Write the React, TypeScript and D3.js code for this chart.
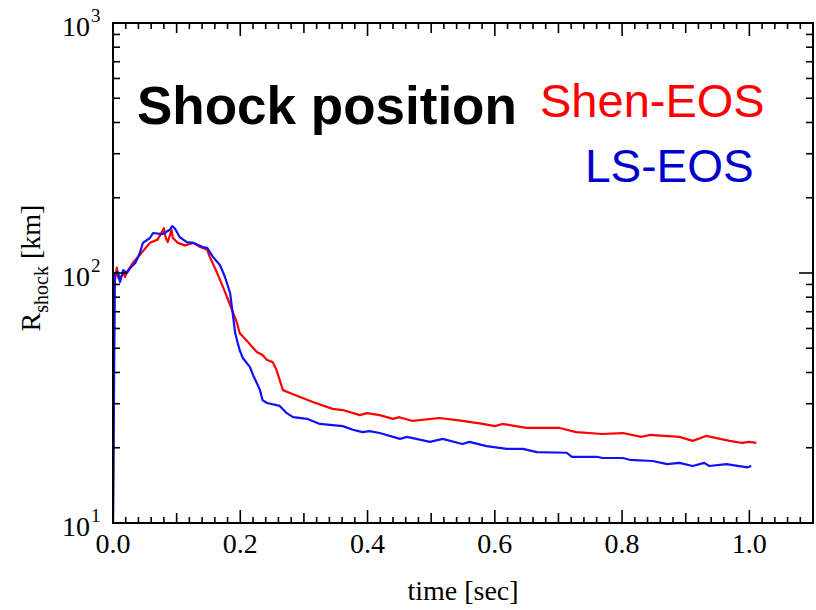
import * as d3 from "d3";
import { useEffect, useRef } from "react";

// Shen-EOS shock radius [km] vs time [sec]
const shenTime = [0, 0.002, 0.006, 0.008, 0.011, 0.016, 0.019, 0.022, 0.027, 0.031, 0.042, 0.058, 0.07, 0.077, 0.08, 0.083, 0.086, 0.092, 0.094, 0.102, 0.113, 0.126, 0.137, 0.148, 0.152, 0.16, 0.165, 0.176, 0.181, 0.195, 0.199, 0.212, 0.226, 0.235, 0.242, 0.251, 0.257, 0.262, 0.267, 0.278, 0.294, 0.314, 0.345, 0.361, 0.388, 0.399, 0.419, 0.44, 0.45, 0.471, 0.513, 0.549, 0.581, 0.6, 0.612, 0.65, 0.702, 0.728, 0.769, 0.801, 0.83, 0.843, 0.89, 0.911, 0.932, 0.969, 0.989, 1.0, 1.011];
const shenR = [10, 90, 105, 96, 93.6, 100.9, 96.4, 101, 105.7, 109.6, 118, 132, 136, 146, 151, 138, 133, 148.6, 138, 132, 129, 132, 127, 124, 116, 105, 98, 84, 78, 63, 57.5, 53, 48.3, 47, 44.9, 44, 40.9, 37.3, 34, 33.1, 31.9, 30.5, 28.6, 28.3, 27, 27.5, 27, 26.1, 26.5, 25.6, 26.3, 25.6, 24.9, 24.4, 24.9, 24, 24, 23.1, 22.7, 22.9, 22.1, 22.5, 22.1, 21.3, 22.3, 21.3, 20.9, 21.1, 20.9];

// LS-EOS
const lsTime = [0, 0.003, 0.008, 0.011, 0.016, 0.022, 0.027, 0.035, 0.042, 0.047, 0.058, 0.063, 0.077, 0.089, 0.093, 0.097, 0.105, 0.116, 0.126, 0.141, 0.148, 0.157, 0.168, 0.176, 0.184, 0.188, 0.192, 0.196, 0.199, 0.204, 0.215, 0.22, 0.226, 0.231, 0.235, 0.242, 0.262, 0.273, 0.283, 0.305, 0.325, 0.361, 0.377, 0.392, 0.403, 0.419, 0.451, 0.462, 0.498, 0.518, 0.549, 0.56, 0.587, 0.619, 0.644, 0.666, 0.713, 0.721, 0.76, 0.769, 0.801, 0.812, 0.848, 0.871, 0.89, 0.911, 0.929, 0.937, 0.964, 0.997, 1.003];
const lsR = [10, 100, 100.9, 92, 102.8, 100, 104.8, 109.6, 120, 132, 138, 144.5, 143, 148.6, 154, 151, 139, 133, 132, 127, 126, 116, 107.6, 96.4, 83.2, 69.2, 57.5, 52.5, 49.2, 45.7, 42.1, 39.1, 36.3, 34, 31, 30.2, 29.4, 27.5, 26.5, 26.1, 24.9, 24.4, 23.6, 23.1, 23.3, 22.9, 21.7, 22.1, 21.1, 21.7, 20.7, 21.1, 20.3, 19.8, 19.8, 19.2, 19.1, 18.4, 18.4, 18.2, 18.2, 17.9, 17.7, 17.2, 17.4, 16.9, 17.4, 16.9, 17.2, 16.7, 16.9];

const xTickLabels = ["0.0", "0.2", "0.4", "0.6", "0.8", "1.0"];
const yDecades = [1, 2, 3];

export default function App() {
  const ref = useRef<SVGSVGElement>(null);

  useEffect(() => {
    const width = 816;
    const height = 610;
    const left = 113, right = 813, top = 23, bottom = 523;
    const serif = "'Liberation Serif', 'Times New Roman', serif";
    const sans = "'Liberation Sans', Arial, sans-serif";

    const svg = d3.select(ref.current);
    svg.selectAll("*").remove();
    svg.attr("width", width).attr("height", height);

    const x = d3.scaleLinear().domain([0, 1.1]).range([left, right]);
    const y = d3.scaleLog().domain([10, 1000]).range([bottom, top]);

    const line = d3.line<[number, number]>()
      .x(d => x(d[0]))
      .y(d => y(d[1]));

    svg.append("clipPath").attr("id", "plotclip")
      .append("rect").attr("x", left).attr("y", top)
      .attr("width", right - left).attr("height", bottom - top);

    const curves = svg.append("g").attr("clip-path", "url(#plotclip)");
    curves.append("path")
      .attr("d", line(shenTime.map((t, i) => [t, shenR[i]] as [number, number])))
      .attr("fill", "none").attr("stroke", "#ff0000").attr("stroke-width", 2.2)
      .attr("stroke-linejoin", "round");
    curves.append("path")
      .attr("d", line(lsTime.map((t, i) => [t, lsR[i]] as [number, number])))
      .attr("fill", "none").attr("stroke", "#1010ff").attr("stroke-width", 2.2)
      .attr("stroke-linejoin", "round");

    // frame
    svg.append("rect")
      .attr("x", left).attr("y", top)
      .attr("width", right - left).attr("height", bottom - top)
      .attr("fill", "none").attr("stroke", "#000").attr("stroke-width", 2);

    const ticks = svg.append("g").attr("stroke", "#000").attr("stroke-width", 1.6);

    // x ticks every 0.02 on bottom and top
    for (let i = 0; i <= 55; i++) {
      const v = i * 0.02;
      const len = i % 10 === 0 ? 13 : i % 5 === 0 ? 10 : 6;
      ticks.append("line").attr("x1", x(v)).attr("x2", x(v))
        .attr("y1", bottom).attr("y2", bottom - len);
      ticks.append("line").attr("x1", x(v)).attr("x2", x(v))
        .attr("y1", top).attr("y2", top + len);
    }

    // y ticks, log
    for (let dec = 10; dec < 1000; dec *= 10) {
      for (let m = 1; m <= 9; m++) {
        const v = dec * m;
        const len = m === 1 ? 14 : 7;
        ticks.append("line").attr("x1", left).attr("x2", left + len)
          .attr("y1", y(v)).attr("y2", y(v));
        ticks.append("line").attr("x1", right).attr("x2", right - len)
          .attr("y1", y(v)).attr("y2", y(v));
      }
    }

    // x tick labels
    svg.append("g").selectAll("text").data(xTickLabels).join("text")
      .attr("x", d => x(+d)).attr("y", bottom + 30)
      .attr("text-anchor", "middle")
      .attr("font-family", serif).attr("font-size", 28)
      .text(d => d);

    // y tick labels
    const yl = svg.append("g").attr("font-family", serif);
    yDecades.forEach(p => {
      const yy = y(Math.pow(10, p));
      yl.append("text").attr("x", 90).attr("y", yy + 13)
        .attr("text-anchor", "end").attr("font-size", 28).text("10");
      yl.append("text").attr("x", 91).attr("y", yy - 1)
        .attr("font-size", 19).text(String(p));
    });

    // axis titles
    svg.append("text")
      .attr("x", (left + right) / 2).attr("y", 600)
      .attr("text-anchor", "middle")
      .attr("font-family", serif).attr("font-size", 28)
      .text("time [sec]");

    const yt = svg.append("text")
      .attr("transform", "translate(40,268) rotate(-90)")
      .attr("text-anchor", "middle")
      .attr("font-family", serif).attr("font-size", 28);
    yt.append("tspan").text("R");
    yt.append("tspan").attr("font-size", 20).attr("dy", 8).text("shock");
    yt.append("tspan").attr("dy", -8).text(" [km]");

    // annotations
    svg.append("text").attr("x", 137).attr("y", 124)
      .attr("font-family", sans).attr("font-weight", "bold").attr("font-size", 53)
      .attr("fill", "#000").text("Shock position");
    svg.append("text").attr("x", 540).attr("y", 117)
      .attr("font-family", sans).attr("font-size", 47)
      .attr("fill", "#ff0000").text("Shen-EOS");
    svg.append("text").attr("x", 585).attr("y", 182)
      .attr("font-family", sans).attr("font-size", 46)
      .attr("fill", "#0000cc").text("LS-EOS");
  }, []);

  return (
    <svg ref={ref} style={{ position: "absolute", left: 0, top: 0 }} />
  );
}
